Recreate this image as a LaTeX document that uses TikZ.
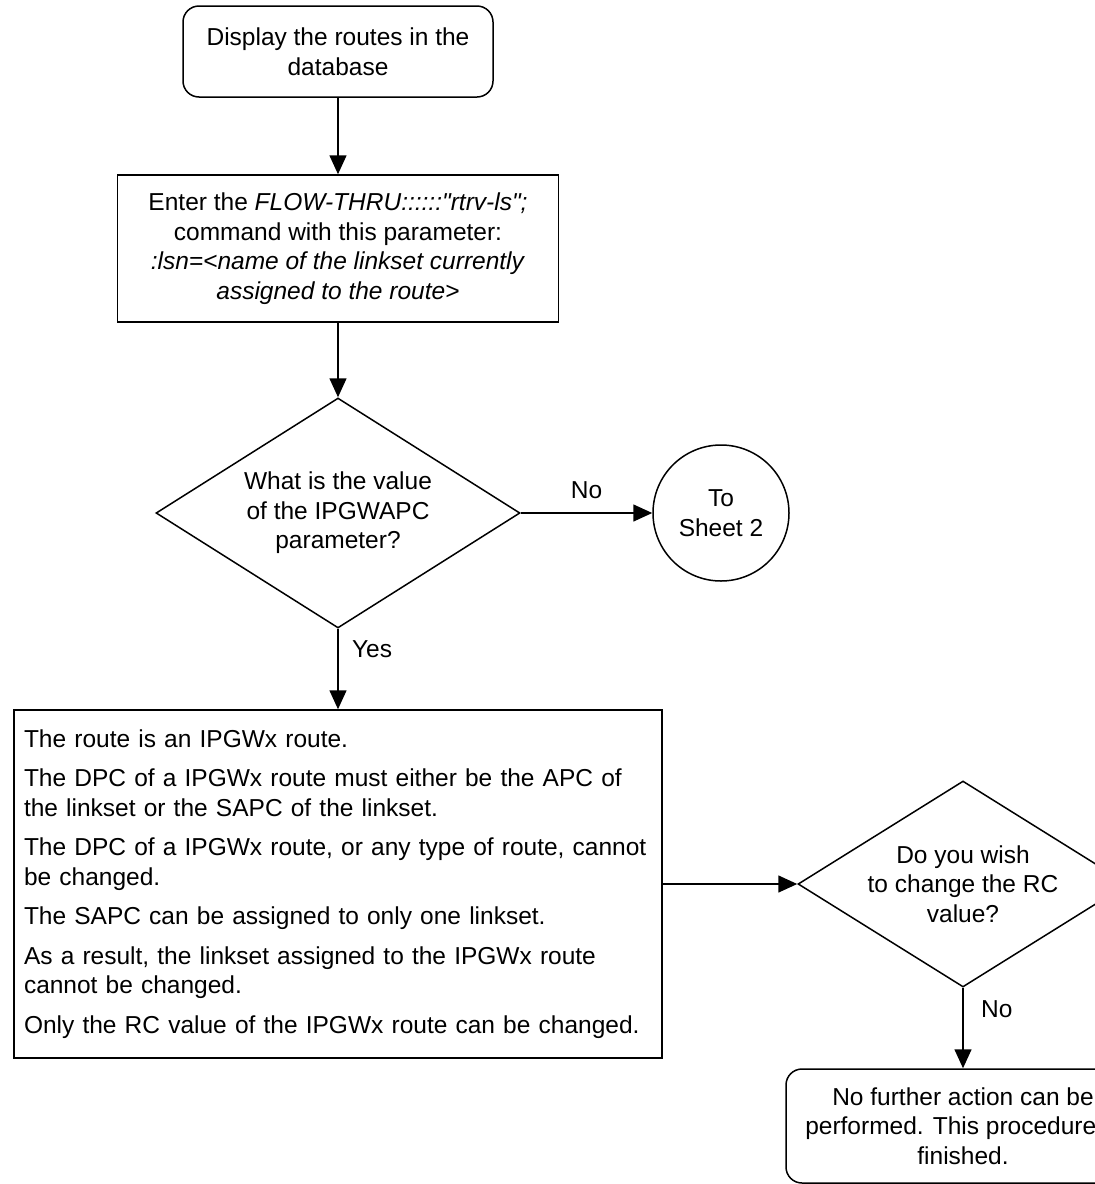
\documentclass[tikz,border=0pt]{standalone}
\usepackage{fontspec}
\newfontfamily\lsfont{Liberation Sans}
\usetikzlibrary{arrows.meta,shapes.geometric}

\begin{document}
\begin{tikzpicture}[x=1pt,y=-1pt,line width=1.5pt,>={Triangle[length=19pt,width=17pt]},
  font=\lsfont\fontsize{24.5}{29.5}\selectfont,
  startbox/.style={draw,rounded corners=16pt,align=center,inner sep=0pt},
  procbox/.style={draw,align=center,inner sep=0pt},
  decide/.style={draw,diamond,shape aspect=1.6,align=center,inner sep=0pt},
  offpage/.style={draw,circle,align=center,inner sep=0pt,minimum size=136pt}]
  \useasboundingbox (0,0) rectangle (1095,1184);
  \clip (0,0) rectangle (1095,1184);
  % haut
  \node[startbox,minimum width=310pt,minimum height=91pt] (disp) at (338,51.5)
    {Display the routes in the\\database};
  \node[procbox,minimum width=441pt,minimum height=147pt] (rtrv) at (338,248.5)
    {Enter the \textit{FLOW-THRU::::::"rtrv-ls";}\\command with this parameter:\\
     \textit{:lsn=<name of the linkset currently}\\\textit{assigned to the route>}};
  % decision IPGWAPC
  \node[decide,minimum width=364pt,minimum height=230pt] (apc) at (338,513)
    {What is the value\\of the IPGWAPC\\parameter?};
  \node[offpage] (sheet) at (721,513) {To\\Sheet 2};
  % texte
  \node[draw,align=left,text width=628pt,inner xsep=10pt,inner ysep=0pt,
        minimum height=348pt] (info) at (338,884)
    {The route is an IPGWx route.\\[10pt]
     The DPC of a IPGWx route must either be the APC of\\the linkset or the SAPC of the linkset.\\[10pt]
     The DPC of a IPGWx route, or any type of route, cannot\\be changed.\\[10pt]
     The SAPC can be assigned to only one linkset.\\[10pt]
     As a result, the linkset assigned to the IPGWx route\\cannot be changed.\\[10pt]
     Only the RC value of the IPGWx route can be changed.};
  % decision RC
  \node[decide,minimum width=330pt,minimum height=206pt] (rc) at (963,884)
    {Do you wish\\to change the RC\\value?};
  \node[startbox,minimum width=354pt,minimum height=114pt] (done) at (963,1126)
    {No further action can be\\performed. This procedure is\\finished.};
  % fleches
  \draw[->] (disp) -- (rtrv);
  \draw[->] (rtrv) -- (apc);
  \draw[->] (apc.east) -- node[above,yshift=10pt]{No} (sheet.west);
  \draw[->] (apc.south) -- node[pos=0.25,right,xshift=10pt]{Yes} (info.north);
  \draw[->] (info.east) -- (rc.west);
  \draw[->] (rc.south) -- node[pos=0.27,right,xshift=14pt]{No} (done.north);
\end{tikzpicture}
\end{document}
